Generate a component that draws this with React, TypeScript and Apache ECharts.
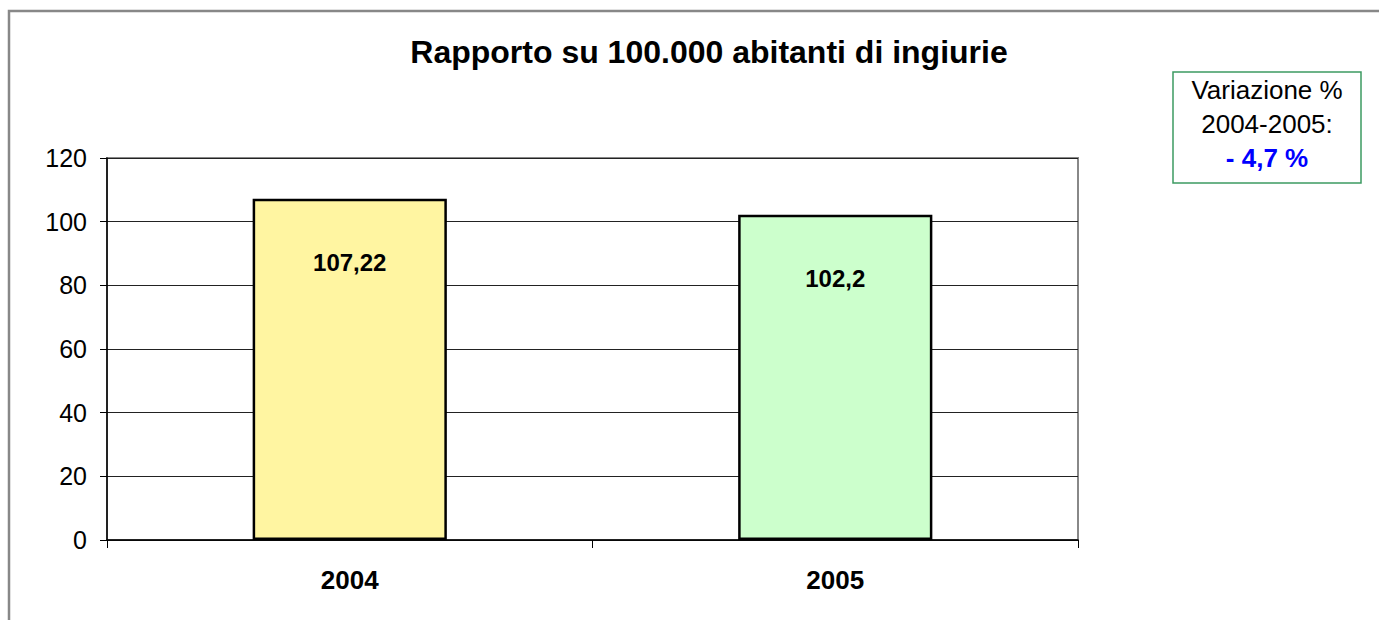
import React, { useEffect, useRef } from "react";
import * as echarts from "echarts";

const categories = ["2004", "2005"];
const values = [107.22, 102.2];
const valueLabels = ["107,22", "102,2"];
const barColors = ["#FFF5A1", "#CCFFCC"];
const yTicks = { min: 0, max: 120, interval: 20 };
const titleText = "Rapporto su 100.000 abitanti di ingiurie";
const noteLines = ["Variazione %", "2004-2005:", "- 4,7 %"];

const FONT = "Liberation Sans";

export default function App() {
  const ref = useRef<HTMLDivElement>(null);
  useEffect(() => {
    if (!ref.current) return;
    const chart = echarts.init(ref.current, null, { renderer: "svg" });
    const noteText = (i: number, y: number, color: string, weight: string) => ({
      type: "text",
      x: 1267,
      y,
      style: {
        text: noteLines[i],
        fill: color,
        fontSize: 26,
        fontFamily: FONT,
        fontWeight: weight,
        align: "center",
        verticalAlign: "middle",
      },
    });
    chart.setOption({
      animation: false,
      backgroundColor: "#fff",
      textStyle: { fontFamily: FONT },
      title: {
        text: titleText,
        left: 704,
        top: 31,
        textAlign: "center",
        textStyle: { fontFamily: FONT, fontSize: 32, fontWeight: "bold", color: "#000" },
      },
      grid: {
        left: 107,
        top: 158,
        right: 301,
        bottom: 80,
        show: true,
        borderColor: "#888",
        borderWidth: 2,
        backgroundColor: "transparent",
      },
      xAxis: {
        type: "category",
        data: categories,
        boundaryGap: true,
        axisLine: { show: true, lineStyle: { color: "#000", width: 1.5 } },
        axisTick: { show: true, alignWithLabel: false, interval: 0, length: 8, lineStyle: { color: "#000" } },
        axisLabel: { margin: 27, fontSize: 26, fontWeight: "bold", color: "#000", fontFamily: FONT },
      },
      yAxis: {
        type: "value",
        min: yTicks.min,
        max: yTicks.max,
        interval: yTicks.interval,
        axisLine: { show: true, lineStyle: { color: "#000", width: 1.5 } },
        axisTick: { show: true, length: 7, lineStyle: { color: "#000" } },
        axisLabel: { margin: 20, fontSize: 25, color: "#000", fontFamily: FONT },
        splitLine: { show: true, lineStyle: { color: "#222", width: 1 } },
      },
      series: [
        {
          type: "bar",
          barWidth: "40%",
          data: values.map((v, i) => ({
            value: v,
            itemStyle: { color: barColors[i], borderColor: "#000", borderWidth: 2.5 },
          })),
          label: {
            show: true,
            position: "insideTop",
            distance: 52,
            fontSize: 24,
            fontWeight: "bold",
            color: "#000",
            fontFamily: FONT,
            formatter: (p: any) => valueLabels[p.dataIndex],
          },
        },
      ],
      graphic: [
        {
          type: "rect",
          shape: { x: 9, y: 11, width: 1400, height: 700 },
          style: { fill: "none", stroke: "#888", lineWidth: 2.5 },
          silent: true,
          z: -10,
        },
        {
          type: "rect",
          shape: { x: 1173, y: 72, width: 188, height: 111 },
          style: { fill: "#fff", stroke: "#3C9A62", lineWidth: 1.5 },
        },
        noteText(0, 90, "#000", "normal"),
        noteText(1, 124, "#000", "normal"),
        noteText(2, 158, "#0000FF", "bold"),
      ],
    });
    return () => chart.dispose();
  }, []);
  return (
    <div
      ref={ref}
      style={{ position: "fixed", left: 0, top: 0, width: 1379, height: 620 }}
    />
  );
}
